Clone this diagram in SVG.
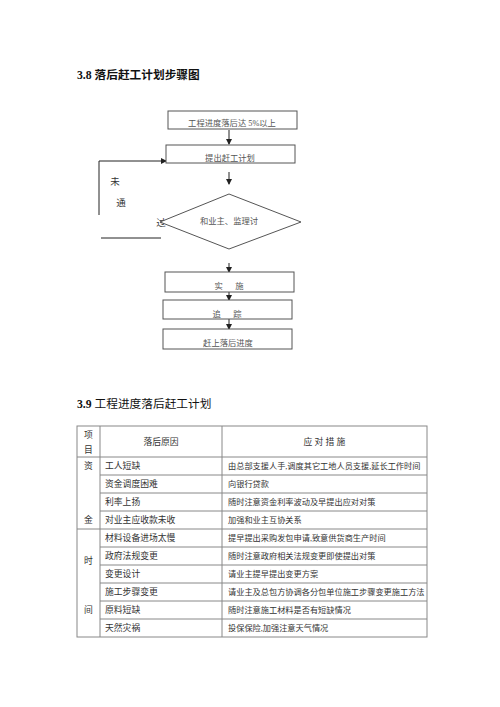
<svg xmlns="http://www.w3.org/2000/svg" width="500" height="707" viewBox="0 0 500 707">
<style>
.t{font-family:"Liberation Serif","Noto Sans CJK SC",serif;}
.title{font-size:11.7px;fill:#111;}
.fb{fill:#fff;stroke:#555;stroke-width:1;}
.ft{font-size:8.3px;fill:#555;text-anchor:middle;}
.side{font-size:9.5px;fill:#333;}
.ln{stroke:#222;stroke-width:1;fill:none;}
.tl{stroke:#888;stroke-width:1;fill:none;}
.tt{font-size:8.8px;fill:#333;}
.tr{font-size:8.2px;fill:#333;}
.tc{text-anchor:middle;}
</style>
<defs>
<marker id="ah" markerWidth="6" markerHeight="6" refX="5" refY="3" orient="auto" markerUnits="userSpaceOnUse">
<path d="M0,0 L6,3 L0,6 Z" fill="#222"/>
</marker>
</defs>
<rect width="500" height="707" fill="#fff"/>
<text class="t title" x="77" y="79" font-weight="bold">3.8 落后赶工计划步骤图</text>

<g id="connectors">
<line class="ln" x1="229" y1="130" x2="229" y2="144" marker-end="url(#ah)"/>
<line class="ln" x1="229" y1="172" x2="229" y2="184" marker-end="url(#ah)"/>
<line class="ln" x1="229" y1="263" x2="229" y2="272" marker-end="url(#ah)"/>
<line class="ln" x1="229" y1="292" x2="229" y2="300" marker-end="url(#ah)"/>
<line class="ln" x1="229" y1="319" x2="229" y2="329" marker-end="url(#ah)"/>
<polyline class="ln" points="99,215 99,161 166,161" marker-end="url(#ah)"/>
<line class="ln" x1="101" y1="238" x2="161" y2="238"/>
</g>

<g id="side-label">
<text class="t side" x="115" y="185" text-anchor="middle">未</text>
<text class="t side" x="121" y="206" text-anchor="middle">通</text>
<text class="t side" x="161" y="226" text-anchor="middle">过</text>
</g>

<g id="n1"><rect class="fb" x="168" y="111" width="129" height="18"/><text class="t ft" x="232" y="126">工程进度落后达 5%以上</text></g>
<g id="n2"><rect class="fb" x="166" y="145" width="129" height="18"/><text class="t ft" x="230" y="161">提出赶工计划</text></g>
<g id="n3"><polygon class="fb" points="229,194 301,222 229,249 160,222"/><text class="t ft" x="229" y="224">和业主、监理讨</text></g>
<g id="n4"><rect class="fb" x="165" y="272" width="129" height="20"/><text class="t ft" x="229" y="289" xml:space="preserve">实      施</text></g>
<g id="n5"><rect class="fb" x="163" y="300" width="129" height="19"/><text class="t ft" x="227" y="317" xml:space="preserve">追      踪</text></g>
<g id="n6"><rect class="fb" x="163" y="329" width="129" height="20"/><text class="t ft" x="228" y="346">赶上落后进度</text></g>

<text class="t title" x="77" y="408"><tspan font-weight="bold">3.9</tspan> 工程进度落后赶工计划</text>

<g id="table">
<rect class="tl" x="77" y="426" width="350" height="211"/>
<line class="tl" x1="100" y1="426" x2="100" y2="637"/>
<line class="tl" x1="222" y1="426" x2="222" y2="637"/>
<line class="tl" x1="77" y1="457" x2="427" y2="457"/>
<line class="tl" x1="100" y1="475" x2="427" y2="475"/>
<line class="tl" x1="100" y1="493" x2="427" y2="493"/>
<line class="tl" x1="100" y1="511" x2="427" y2="511"/>
<line class="tl" x1="77" y1="529" x2="427" y2="529"/>
<line class="tl" x1="100" y1="547" x2="427" y2="547"/>
<line class="tl" x1="100" y1="565" x2="427" y2="565"/>
<line class="tl" x1="100" y1="583" x2="427" y2="583"/>
<line class="tl" x1="100" y1="601" x2="427" y2="601"/>
<line class="tl" x1="100" y1="619" x2="427" y2="619"/>

<text class="t tt tc" x="88.5" y="438">项</text>
<text class="t tt tc" x="88.5" y="453">目</text>
<text class="t tt tc" x="161" y="445">落后原因</text>
<text class="t tt tc" x="324.5" y="445" xml:space="preserve">应 对 措 施</text>

<text class="t tt tc" x="88.5" y="469">资</text>
<text class="t tt tc" x="88.5" y="523">金</text>
<text class="t tt tc" x="88.5" y="564">时</text>
<text class="t tt tc" x="88.5" y="613">间</text>

<text class="t tt" x="105" y="469">工人短缺</text>
<text class="t tt" x="105" y="487">资金调度困难</text>
<text class="t tt" x="105" y="505">利率上扬</text>
<text class="t tt" x="105" y="523">对业主应收款未收</text>
<text class="t tt" x="105" y="541">材料设备进场太慢</text>
<text class="t tt" x="105" y="559">政府法规变更</text>
<text class="t tt" x="105" y="577">变更设计</text>
<text class="t tt" x="105" y="595">施工步骤变更</text>
<text class="t tt" x="105" y="613">原料短缺</text>
<text class="t tt" x="105" y="631">天然灾祸</text>

<text class="t tr" x="228" y="469">由总部支援人手,调度其它工地人员支援,延长工作时间</text>
<text class="t tr" x="228" y="487">向银行贷款</text>
<text class="t tr" x="228" y="505">随时注意资金利率波动及早提出应对对策</text>
<text class="t tr" x="228" y="523">加强和业主互协关系</text>
<text class="t tr" x="228" y="541">提早提出采购发包申请,致意供货商生产时间</text>
<text class="t tr" x="228" y="559">随时注意政府相关法规变更即使提出对策</text>
<text class="t tr" x="228" y="577">请业主提早提出变更方案</text>
<text class="t tr" x="228" y="595">请业主及总包方协调各分包单位施工步骤变更施工方法</text>
<text class="t tr" x="228" y="613">随时注意施工材料是否有短缺情况</text>
<text class="t tr" x="228" y="631">投保保险,加强注意天气情况</text>
</g>
</svg>
